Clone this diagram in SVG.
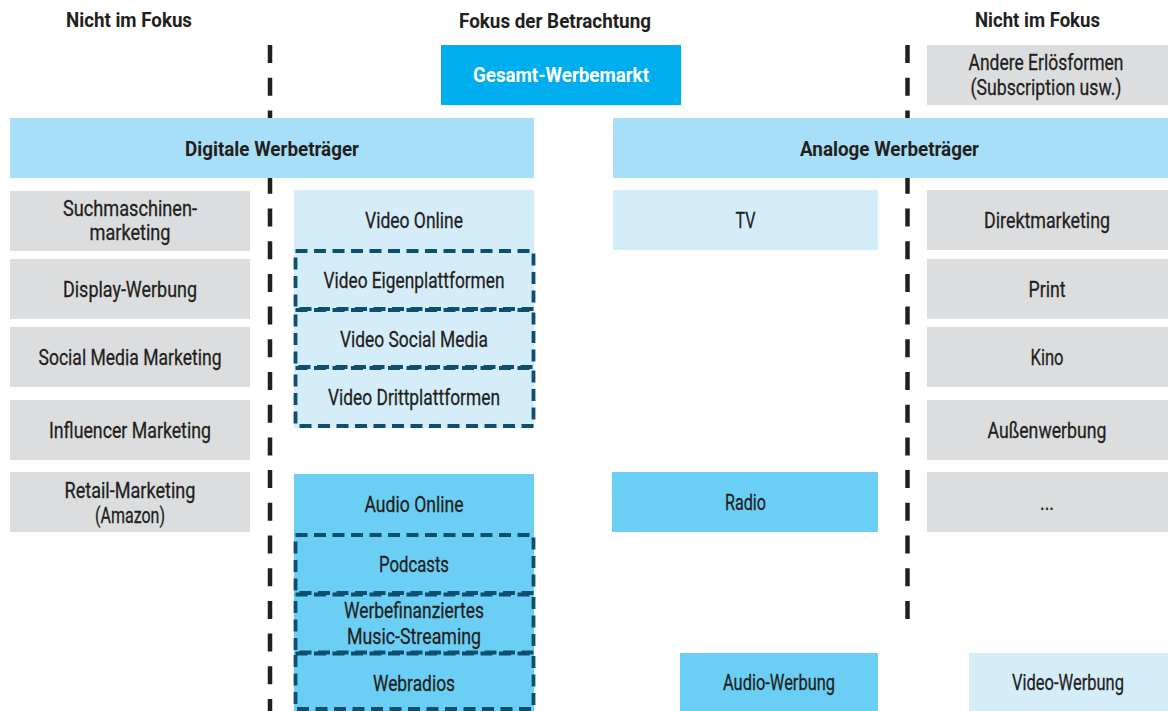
<svg xmlns="http://www.w3.org/2000/svg" width="1168" height="711" viewBox="0 0 1168 711">
<style>
  text { font-family: Roboto, "Liberation Sans", sans-serif; fill: #231F20; text-anchor: middle; }
  .t { font-size: 22px; stroke: #231F20; stroke-width: 0.3; }
  .b { font-size: 20px; font-weight: bold; }
  .w { fill: #FFFFFF; }
  .gray { fill: #DCDDDF; }
  .hdr { fill: #A8DFF8; }
  .light { fill: #D5EDF9; }
  .audio { fill: #6BCFF5; }
  .main { fill: #00AEEF; }
  .sub { fill: none; stroke: #0E4F6F; stroke-width: 3.8; stroke-dasharray: 12 6.5; }
  .sep { stroke: #231F20; stroke-width: 4.5; stroke-dasharray: 18 14.7; fill: none; }
</style>
<rect width="1168" height="711" fill="#FFFFFF"/>

<g id="connectors">
  <line class="sep" x1="270" y1="45" x2="270" y2="711"/>
  <line class="sep" x1="907.5" y1="45" x2="907.5" y2="620"/>
</g>

<g id="labels">
  <text class="b" x="129" y="27" textLength="126" lengthAdjust="spacingAndGlyphs">Nicht im Fokus</text>
  <text class="b" x="555" y="28" textLength="192" lengthAdjust="spacingAndGlyphs">Fokus der Betrachtung</text>
  <text class="b" x="1037.5" y="27" textLength="125" lengthAdjust="spacingAndGlyphs">Nicht im Fokus</text>
</g>

<g id="gesamt">
  <rect class="main" x="441" y="45" width="240" height="60"/>
  <text class="b w" x="561" y="82" textLength="176" lengthAdjust="spacingAndGlyphs">Gesamt-Werbemarkt</text>
</g>
<g id="andere">
  <rect class="gray" x="927" y="45" width="241" height="60"/>
  <text class="t" x="1046" y="70" textLength="155" lengthAdjust="spacingAndGlyphs">Andere Erlösformen</text>
  <text class="t" x="1046" y="95" textLength="151" lengthAdjust="spacingAndGlyphs">(Subscription usw.)</text>
</g>

<g id="digital">
  <rect class="hdr" x="10" y="118" width="524" height="60"/>
  <text class="b" x="272" y="156" textLength="174" lengthAdjust="spacingAndGlyphs">Digitale Werbeträger</text>
</g>
<g id="analog">
  <rect class="hdr" x="613" y="118" width="555" height="60"/>
  <text class="b" x="889.5" y="156" textLength="179" lengthAdjust="spacingAndGlyphs">Analoge Werbeträger</text>
</g>

<g id="suchmaschinen">
  <rect class="gray" x="10" y="191" width="240" height="60"/>
  <text class="t" x="130" y="216" textLength="134" lengthAdjust="spacingAndGlyphs">Suchmaschinen-</text>
  <text class="t" x="130" y="240" textLength="81" lengthAdjust="spacingAndGlyphs">marketing</text>
</g>
<g id="display">
  <rect class="gray" x="10" y="259" width="240" height="60"/>
  <text class="t" x="130" y="297" textLength="134" lengthAdjust="spacingAndGlyphs">Display-Werbung</text>
</g>
<g id="socialmm">
  <rect class="gray" x="10" y="327" width="240" height="60"/>
  <text class="t" x="130" y="365" textLength="183" lengthAdjust="spacingAndGlyphs">Social Media Marketing</text>
</g>
<g id="influencer">
  <rect class="gray" x="10" y="400" width="240" height="60"/>
  <text class="t" x="130" y="438" textLength="162" lengthAdjust="spacingAndGlyphs">Influencer Marketing</text>
</g>
<g id="retail">
  <rect class="gray" x="10" y="472" width="240" height="60"/>
  <text class="t" x="130" y="498" textLength="131" lengthAdjust="spacingAndGlyphs">Retail-Marketing</text>
  <text class="t" x="130" y="523" textLength="70" lengthAdjust="spacingAndGlyphs">(Amazon)</text>
</g>

<g id="videoonline">
  <rect class="light" x="294" y="190" width="240" height="238"/>
  <text class="t" x="414" y="228" textLength="98" lengthAdjust="spacingAndGlyphs">Video Online</text>
</g>
<g id="videoeigen">
  <rect class="sub" x="295.5" y="251" width="238" height="58"/>
  <text class="t" x="414" y="288" textLength="181" lengthAdjust="spacingAndGlyphs">Video Eigenplattformen</text>
</g>
<g id="videosocial">
  <rect class="sub" x="295.5" y="310" width="238" height="57"/>
  <text class="t" x="414" y="347" textLength="148" lengthAdjust="spacingAndGlyphs">Video Social Media</text>
</g>
<g id="videodritt">
  <rect class="sub" x="295.5" y="368" width="238" height="58"/>
  <text class="t" x="414" y="405" textLength="172" lengthAdjust="spacingAndGlyphs">Video Drittplattformen</text>
</g>

<g id="audioonline">
  <rect class="audio" x="294" y="474" width="240" height="237"/>
  <text class="t" x="414" y="512" textLength="99" lengthAdjust="spacingAndGlyphs">Audio Online</text>
</g>
<g id="podcasts">
  <rect class="sub" x="295.5" y="535" width="238" height="58"/>
  <text class="t" x="414" y="572" textLength="70" lengthAdjust="spacingAndGlyphs">Podcasts</text>
</g>
<g id="musicstreaming">
  <rect class="sub" x="295.5" y="594.5" width="238" height="58"/>
  <text class="t" x="414" y="618" textLength="140" lengthAdjust="spacingAndGlyphs">Werbefinanziertes</text>
  <text class="t" x="414" y="644" textLength="134" lengthAdjust="spacingAndGlyphs">Music-Streaming</text>
</g>
<g id="webradios">
  <rect class="sub" x="295.5" y="653.5" width="238" height="55.5"/>
  <text class="t" x="414" y="691" textLength="82" lengthAdjust="spacingAndGlyphs">Webradios</text>
</g>

<g id="tv">
  <rect class="light" x="613" y="190" width="265" height="60"/>
  <text class="t" x="745.5" y="228" textLength="20" lengthAdjust="spacingAndGlyphs">TV</text>
</g>
<g id="radio">
  <rect class="audio" x="612" y="472" width="266" height="60"/>
  <text class="t" x="745.5" y="510" textLength="41" lengthAdjust="spacingAndGlyphs">Radio</text>
</g>

<g id="direktmarketing">
  <rect class="gray" x="927" y="190" width="241" height="60"/>
  <text class="t" x="1047" y="228" textLength="126" lengthAdjust="spacingAndGlyphs">Direktmarketing</text>
</g>
<g id="print">
  <rect class="gray" x="927" y="259" width="241" height="60"/>
  <text class="t" x="1047" y="297" textLength="37" lengthAdjust="spacingAndGlyphs">Print</text>
</g>
<g id="kino">
  <rect class="gray" x="927" y="327" width="241" height="60"/>
  <text class="t" x="1047" y="365" textLength="33" lengthAdjust="spacingAndGlyphs">Kino</text>
</g>
<g id="aussenwerbung">
  <rect class="gray" x="927" y="400" width="241" height="60"/>
  <text class="t" x="1047" y="438" textLength="119" lengthAdjust="spacingAndGlyphs">Außenwerbung</text>
</g>
<g id="etc">
  <rect class="gray" x="927" y="472" width="241" height="60"/>
  <text class="t" x="1047" y="510" textLength="14" lengthAdjust="spacingAndGlyphs">...</text>
</g>

<g id="audiowerbung">
  <rect class="audio" x="680" y="653" width="198" height="58"/>
  <text class="t" x="779" y="690" textLength="112" lengthAdjust="spacingAndGlyphs">Audio-Werbung</text>
</g>
<g id="videowerbung">
  <rect class="light" x="969" y="653" width="199" height="58"/>
  <text class="t" x="1068" y="690" textLength="112" lengthAdjust="spacingAndGlyphs">Video-Werbung</text>
</g>
</svg>
